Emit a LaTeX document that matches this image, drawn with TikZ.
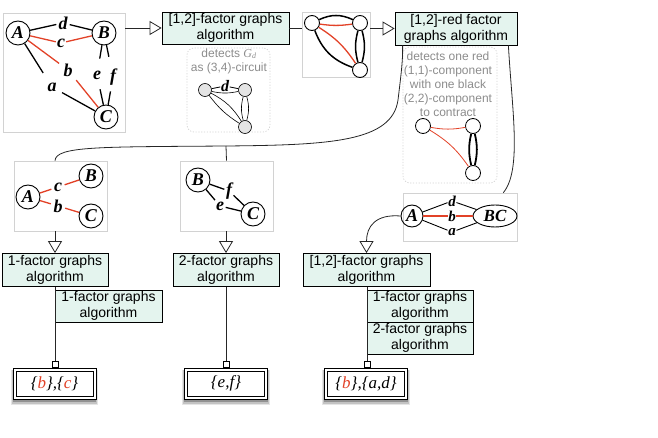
\documentclass[tikz,border=0pt]{standalone}
\usepackage{fontspec}
\setmainfont{Liberation Sans}
\newfontfamily\lserif{Liberation Serif}
\usetikzlibrary{arrows.meta,calc,shapes.geometric,backgrounds}
\definecolor{mint}{RGB}{228,244,238}
\definecolor{redE}{RGB}{226,66,40}
\definecolor{panelgray}{RGB}{210,210,210}
\definecolor{txtgray}{RGB}{140,140,140}
\definecolor{gfill}{RGB}{228,228,228}
\begin{document}
\begin{tikzpicture}[x=1pt,y=-1pt,
  algbox/.style={draw, fill=mint, line width=0.8pt, align=center, inner sep=0pt,
    font=\fontsize{14}{16}\selectfont},
  panel/.style={draw=panelgray, line width=0.7pt, inner sep=0pt},
  dpanel/.style={draw=panelgray, line width=0.7pt, dash pattern=on 1.2pt off 1.6pt, rounded corners=7pt, inner sep=0pt},
  gv/.style={circle, draw, line width=0.9pt, inner sep=0pt, minimum size=24pt,
    font=\lserif\bfseries\itshape\fontsize{18}{18}\selectfont},
  lab/.style={inner sep=1pt, font=\lserif\bfseries\itshape\fontsize{18}{18}\selectfont},
  lab5/.style={inner sep=0.5pt, font=\lserif\bfseries\itshape\fontsize{15}{15}\selectfont},
  ge/.style={line width=1.3pt},
  re/.style={line width=1.3pt, draw=redE},
  sv/.style={circle, draw, fill=white, line width=0.9pt, minimum size=15pt, inner sep=0pt},
  gsv/.style={circle, draw, fill=gfill, line width=0.6pt, minimum size=13pt, inner sep=0pt},
  gtxt/.style={text=txtgray, align=center, font=\fontsize{12}{14}\selectfont},
  conn/.style={line width=0.8pt, draw=black!85},
  tri/.style={conn, -{Triangle[length=12pt,width=14pt,fill=white,line width=0.8pt]}},
  res/.style={draw, fill=white, line width=0.9pt,
    minimum width=83pt, minimum height=31pt, inner sep=0pt},
  restxt/.style={font=\lserif\itshape\fontsize{17}{17}\selectfont},
  inner/.style={draw, line width=0.9pt},
  sq/.style={draw, fill=white, line width=0.8pt, minimum size=6pt, inner sep=0pt}
]
\useasboundingbox (0,0) rectangle (658,438);

% ---------- panel 1 ----------
\node[panel, minimum width=122pt, minimum height=119pt] (P1) at (64,72.5) {};
\node[gv] (A1) at (18,33) {A};
\node[gv] (B1) at (104,33) {B};
\node[gv] (C1) at (106,117) {C};
\node[lab] (d1) at (63,23) {d};
\node[lab] (c1) at (61,43) {c};
\node[lab] (b1) at (68,70) {b};
\node[lab] (a1) at (52,87) {a};
\node[lab] (e1) at (97,75) {e};
\node[lab] (f1) at (113,77) {f};
\draw[ge, shorten >=1pt] (A1) -- (d1);
\draw[ge, shorten <=1pt] (d1) -- (B1);
\draw[re] (A1) -- (c1);
\draw[re] (c1) -- (B1);
\draw[re, shorten >=4pt] (A1) -- (b1);
\draw[ge, shorten >=10pt] (A1) -- (a1);
\draw[ge, shorten <=5pt] (a1) -- (C1);
\draw[re, shorten <=4pt] (b1) -- (C1);
\draw[ge, shorten >=11pt] (B1) -- (e1);
\draw[ge, shorten >=11pt] (B1) -- (f1);
\draw[ge, shorten <=9pt] (e1) -- (C1);
\draw[ge, shorten <=5pt] (f1) -- (C1);

% ---------- top boxes ----------
\node[algbox, minimum width=127pt, minimum height=32pt] (box1) at (225.5,28) {[1,2]-factor graphs\\algorithm};
\node[algbox, minimum width=122pt, minimum height=33pt] (R) at (456,28.5) {[1,2]-red factor\\graphs algorithm};
\draw[tri] (P1.east |- box1.west) -- (box1.west);

% ---------- panel 2 ----------
\node[panel, minimum width=68pt, minimum height=65pt] (P2) at (336,44.5) {};
\node[sv] (L2) at (312,23) {};
\node[sv] (T2) at (360,23) {};
\node[sv] (D2) at (360,70) {};
\draw[line width=1.5pt] (L2) to[bend left=25] (T2);
\draw[line width=1.3pt, redE] (L2) to[bend right=8] (T2);
\draw[line width=1.5pt] (L2) to[bend right=25] (D2);
\draw[line width=1.3pt, redE] (L2) to[bend left=12] (D2);
\draw[line width=1.5pt] (T2) to[bend left=15] (D2);
\draw[line width=1.5pt] (T2) to[bend right=15] (D2);
\draw[conn] (box1.east) -- (P2.west |- box1.east);
\draw[tri] (P2.east |- R.west) -- (R.west);

% ---------- dotted panel G_d ----------
\node[dpanel, minimum width=83pt, minimum height=84pt] (DP1) at (228.5,90) {};
\node[gtxt] (t1) at (229,61) {detects {\lserif\itshape G}\textsubscript{\lserif\itshape d}\\as (3,4)-circuit};
\node[gsv] (GL) at (205,90) {};
\node[gsv] (GR) at (245,90) {};
\node[gsv] (GB) at (245,127) {};
\node[lab, font=\lserif\bfseries\itshape\fontsize{16}{16}\selectfont, inner sep=0.5pt] (gd) at (225,86) {d};
\draw[line width=0.8pt] (GL) -- (gd);
\draw[line width=0.8pt] (gd) -- (GR);
\draw[line width=0.6pt] (GL) to[bend right=12] (GR);
\draw[line width=0.6pt] (GL) to[bend left=15] (GB);
\draw[line width=0.6pt] (GL) to[bend right=10] (GB);
\draw[line width=0.6pt] (GR) to[bend left=15] (GB);
\draw[line width=0.6pt] (GR) to[bend right=15] (GB);

% ---------- dotted panel red ----------
\node[dpanel, minimum width=94pt, minimum height=136pt] (DP2) at (450,115) {};
\node[gtxt] (t2) at (448,84) {detects one red\\(1,1)-component\\with one black\\(2,2)-component\\to contract};
\node[sv, line width=0.8pt] (RL) at (423,126) {};
\node[sv, line width=0.8pt] (RT) at (473,126) {};
\node[sv, line width=0.8pt] (RB) at (473,173) {};
\draw[line width=0.8pt, redE] (RL) to[bend right=10] (RT);
\draw[line width=0.8pt, redE] (RL) to[bend left=12] (RB);
\draw[line width=1.8pt] (RT) to[bend left=13] (RB);
\draw[line width=1.8pt] (RT) to[bend right=13] (RB);

% ---------- panel 3 ----------
\node[panel, minimum width=93pt, minimum height=70pt] (P3) at (60.5,196) {};
\node[gv] (A3) at (28,197) {A};
\node[gv] (B3) at (91,176) {B};
\node[gv] (C3) at (91,216) {C};
\node[lab] (c3) at (58,187) {c};
\node[lab] (b3) at (58,206) {b};
\draw[re, shorten >=1.5pt] (A3) -- (c3);
\draw[re, shorten <=1.5pt] (c3) -- (B3);
\draw[re, shorten >=1.5pt] (A3) -- (b3);
\draw[re, shorten <=1.5pt] (b3) -- (C3);

% ---------- panel 4 ----------
\node[panel, minimum width=93pt, minimum height=70pt] (P4) at (226.5,196) {};
\node[gv] (B4) at (198,180) {B};
\node[gv] (C4) at (253,214) {C};
\node[lab] (f4) at (229,191) {f};
\node[lab] (e4) at (220,206) {e};
\draw[ge, shorten >=0.5pt] (B4) -- (f4);
\draw[ge, shorten >=0.5pt] (B4) -- (e4);
\draw[ge, shorten <=0.5pt] (f4) -- (C4);
\draw[ge, shorten <=0.5pt] (e4) -- (C4);

% ---------- panel 5 ----------
\node[panel, minimum width=114pt, minimum height=48pt] (P5) at (460,217) {};
\node[gv, minimum size=22pt] (A5) at (412,216) {A};
\node[gv, ellipse, minimum width=44pt, minimum height=22pt] (BC5) at (495,216) {};
\node[lab5, font=\lserif\bfseries\itshape\fontsize{17}{17}\selectfont] (bclab) at (BC5) {BC};
\node[lab5] (d5) at (452,201) {d};
\node[lab5] (b5) at (452,216) {b};
\node[lab5] (a5) at (452,232) {a};
\draw[line width=0.9pt] (A5) -- (d5);
\draw[line width=0.9pt] (d5) -- (BC5);
\draw[line width=1.2pt, redE] (A5) -- (b5);
\draw[line width=1.2pt, redE] (b5) -- (BC5);
\draw[line width=0.9pt] (A5) -- (a5);
\draw[line width=0.9pt] (a5) -- (BC5);

% ---------- lower boxes ----------
\node[algbox, minimum width=106pt, minimum height=33pt] (B1f) at (55,270) {1-factor graphs\\algorithm};
\node[algbox, minimum width=107pt, minimum height=32pt] (B1f2) at (108.5,306) {1-factor graphs\\algorithm};
\node[algbox, minimum width=106pt, minimum height=33pt] (B2f) at (226,270) {2-factor graphs\\algorithm};
\node[algbox, minimum width=127pt, minimum height=33pt] (B12) at (366.5,270) {[1,2]-factor graphs\\algorithm};
\node[algbox, minimum width=106pt, minimum height=32pt] (B1fb) at (420,306) {1-factor graphs\\algorithm};
\node[algbox, minimum width=106pt, minimum height=32pt] (B2fb) at (420,338) {2-factor graphs\\algorithm};

% ---------- long curves ----------
\coordinate (J) at (226,146);
\draw[conn] (P3.north -| B1f) .. controls (56,146) and (100,147) .. (J)
  .. controls (330,145) and (392,142) .. (398,100)
  .. controls (401,75) and (403,60) .. ($(R.south west)+(8,0)$);
\draw[conn] (J) -- (P4.north);
\draw[conn] ($(R.south east)+(-9,0)$) .. controls (512,110) and (522,170) .. ($(P5.north east)+(-14,0)$);

\draw[tri] (P3.south -| B1f) -- (B1f.north);
\draw[tri] (P4.south -| B2f) -- (B2f.north);
\draw[tri] (A5.west) .. controls (376,214) and (366.5,226) .. (B12.north);

% ---------- results ----------
\node[res] (r1) at (54.5,383.5) {};
\node[res] (r2) at (226,383.5) {};
\node[res] (r3) at (366,383.5) {};
\begin{scope}[on background layer]
\foreach \r in {r1,r2,r3} {
  \fill[black, opacity=0.10] ($(\r.north west)+(-2,2)$) rectangle ($(\r.south east)+(2,6)$);
  \fill[black, opacity=0.15] ($(\r.north west)+(-1,2)$) rectangle ($(\r.south east)+(1,4.5)$);
  \fill[black, opacity=0.25] ($(\r.north west)+(0,2)$) rectangle ($(\r.south east)+(0,3)$);
}
\end{scope}
\foreach \r in {r1,r2,r3}
  \draw[inner] ($(\r.north west)+(3.5,3.5)$) rectangle ($(\r.south east)+(-3.5,-3.5)$);
\node[restxt] (t3) at (r1) {\{\textcolor{redE}{b}\},\{\textcolor{redE}{c}\}};
\node[restxt] (t4) at (r2) {\{e,f\}};
\node[restxt] (t5) at (r3) {\{\textcolor{redE}{b}\},\{a,d\}};
\node[sq] (s1) at (55,364) {};
\node[sq] (s2) at (226,364) {};
\node[sq] (s3) at (367,364) {};
\draw[conn] (B1f.south -| s1) -- (s1);
\draw[conn] (B2f.south) -- (s2);
\draw[conn] (B12.south -| s3) -- (s3);
\end{tikzpicture}
\end{document}
